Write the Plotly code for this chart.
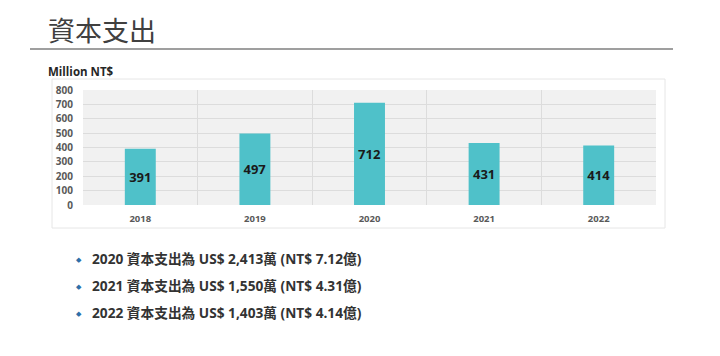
import plotly.graph_objects as go

years = ["2018", "2019", "2020", "2021", "2022"]
capex = [391, 497, 712, 431, 414]
y_ticks = [0, 100, 200, 300, 400, 500, 600, 700, 800]
title_text = "資本支出"
unit_text = "Million NT$"
notes = [
    "2020 資本支出為 US$ 2,413萬 (NT$ 7.12億)",
    "2021 資本支出為 US$ 1,550萬 (NT$ 4.31億)",
    "2022 資本支出為 US$ 1,403萬 (NT$ 4.14億)",
]

FONT = "Open Sans, Noto Sans CJK TC, sans-serif"

fig = go.Figure()
fig.add_trace(go.Bar(
    x=years, y=capex,
    marker=dict(color="#4fc1c9", line=dict(width=0)),
    width=0.27,
    text=[str(v) for v in capex],
    textposition="inside",
    insidetextanchor="middle",
    textangle=0,
    textfont=dict(family=FONT, size=13, color="#1a1a1a", weight="bold"),
    hoverinfo="skip",
))

OFF = 8  # page body margin
W, H = 720 - OFF, 356 - OFF
# plot area in page coordinates: x 83..656, y 90..205
PL, PR, PT, PB = 83, 656, 90, 205
L = PL - OFF
T = PT - OFF
pw = PR - PL
ph = PB - PT
R = W - L - pw
B = H - T - ph

def px(x):  # page x -> paper
    return (x - PL) / pw

def py(y):  # page y -> paper
    return (PB - y) / ph

fig.update_layout(
    width=W, height=H,
    margin=dict(l=L, r=R, t=T, b=B, pad=0),
    paper_bgcolor="white",
    plot_bgcolor="#f1f1f1",
    showlegend=False,
    font=dict(family=FONT),
    xaxis=dict(
        type="category",
        tickson="boundaries",
        showgrid=True, gridcolor="#dcdcdc", gridwidth=1,
        ticks="", showline=False, zeroline=False,
        tickfont=dict(family=FONT, size=9.5, color="#595959", weight="bold"),
        ticklabelstandoff=6,
    ),
    yaxis=dict(
        range=[0, 800],
        tickvals=y_ticks,
        showgrid=True, gridcolor="#dcdcdc", gridwidth=1,
        zeroline=False, showline=False, ticks="",
        tickfont=dict(family=FONT, size=10, color="#595959", weight="bold"),
        ticklabelstandoff=9,
    ),
    bargap=0.73,
)

shapes = [
    dict(type="rect", xref="paper", yref="paper",
         x0=px(52), x1=px(665), y0=py(228), y1=py(79),
         line=dict(color="#e6e6e6", width=1), fillcolor="rgba(0,0,0,0)", layer="below"),
    dict(type="line", xref="paper", yref="paper",
         x0=px(30), x1=px(673), y0=py(49), y1=py(49),
         line=dict(color="#7f7f7f", width=1.5)),
]
fig.update_layout(shapes=shapes)

annotations = [
    dict(text=title_text, x=px(46), y=py(30), xref="paper", yref="paper",
         xanchor="left", yanchor="middle", showarrow=False,
         font=dict(family="Noto Sans CJK TC, sans-serif", size=27, color="#404040")),
    dict(text=unit_text, x=px(46), y=py(71), xref="paper", yref="paper",
         xanchor="left", yanchor="middle", showarrow=False,
         font=dict(family=FONT, size=11.5, color="#262626", weight="bold")),
]
for i, note in enumerate(notes):
    yy = 258 + i * 27
    annotations.append(dict(text="◆", x=px(79), y=py(yy + 2), xref="paper", yref="paper",
                            xanchor="center", yanchor="middle", showarrow=False,
                            font=dict(family="DejaVu Sans", size=7, color="#2f6fa8")))
    annotations.append(dict(text=note, x=px(90), y=py(yy), xref="paper", yref="paper",
                            xanchor="left", yanchor="middle", showarrow=False,
                            font=dict(family=FONT, size=13.7, color="#333333", weight="bold")))
fig.update_layout(annotations=annotations)

fig.write_html("out.html")
